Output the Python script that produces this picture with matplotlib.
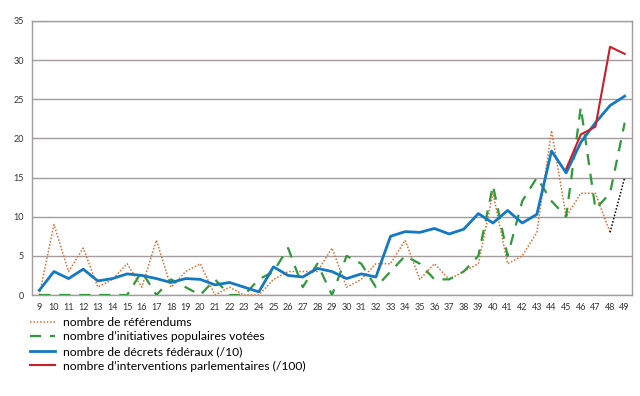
import numpy as np
import matplotlib
matplotlib.use('Agg')
import matplotlib.pyplot as plt

plt.rcParams['font.family'] = ['Lato', 'DejaVu Sans']

# Législatures (axe x)
legislatures = list(range(9, 50))

referendums = [0, 9, 3, 6, 1, 2, 4, 1, 7, 1, 3, 4, 0, 1, 0,
               0, 2, 3, 3, 3, 6, 1, 2, 4, 4, 7, 2, 4, 2, 3,
               4, 13, 4, 5, 8, 21, 10, 13, 13, 8, 15]
initiatives = [0, 0, 0, 0, 0, 0, 0, 3, 0, 2, 1, 0, 2, 0, 0,
               2, 3, 6, 1, 4, 0, 5, 4, 1, 3, 5, 4, 2, 2, 3,
               5, 14, 5, 12, 15, 12, 10, 24, 11, 13, 22]
decrets = [0.6, 3.0, 2.1, 3.3, 1.8, 2.1, 2.7, 2.5, 2.1, 1.6, 2.1, 2.0, 1.3, 1.6, 1.0,
           0.4, 3.6, 2.5, 2.3, 3.4, 3.0, 2.1, 2.7, 2.3, 7.5, 8.1, 8.0, 8.5, 7.8, 8.4,
           10.4, 9.2, 10.8, 9.2, 10.3, 18.4, 15.6, 19.5, 22.0, 24.2, 25.4]
interventions_leg = [45, 46, 47, 48, 49]
interventions = [16.1, 20.5, 21.5, 31.7, 30.8]

labels = ['nombre de référendums',
          'nombre d\u2019initiatives populaires votées',
          'nombre de décrets fédéraux (/10)',
          'nombre d\u2019interventions parlementaires (/100)']

fig = plt.figure(figsize=(6.4, 3.96), dpi=100)
ax = fig.add_axes([0.05, 0.255, 0.9375, 0.692])

x = np.array(legislatures)
l1, = ax.plot(x[:-1], referendums[:-1], color='#E06A2E', linestyle=(0, (1, 1.2)),
              linewidth=1.1, zorder=3)
ax.plot(x[-2:], referendums[-2:], color='black', linestyle=(0, (1, 1.2)),
        linewidth=1.1, zorder=3)
l2, = ax.plot(x, initiatives, color='#2E9A3A', linestyle=(0, (5, 4)),
              linewidth=1.6, zorder=3)
l3, = ax.plot(x, decrets, color='#1479C4', linewidth=2.0, zorder=4)
l4, = ax.plot(interventions_leg, interventions, color='#C8202A', linewidth=1.5, zorder=5)

ax.set_xlim(8.5, 49.5)
ax.set_ylim(0, 35)
ax.set_xticks(legislatures)
ax.set_yticks(range(0, 36, 5))
ax.tick_params(length=0, labelsize=6.5, colors='#333333', pad=6)
ax.grid(axis='y', color='#A39D9D', linewidth=1)
ax.set_axisbelow(True)
for s in ax.spines.values():
    s.set_color('#A39D9D')
    s.set_linewidth(1)

fig.legend([l1, l2, l3, l4], labels, loc='upper left',
           bbox_to_anchor=(0.047, 0.2), frameon=False, fontsize=8.7,
           handlelength=2.1, handletextpad=0.6, labelspacing=0.3,
           borderpad=0, borderaxespad=0)

fig.savefig('out.png', dpi=100)
